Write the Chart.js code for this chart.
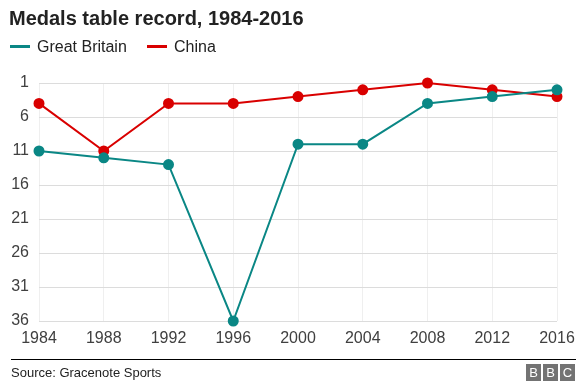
<!DOCTYPE html>
<html>
<head>
<meta charset="utf-8">
<script src="https://cdn.jsdelivr.net/npm/chart.js@4"></script>
<style>
  html, body { margin: 0; padding: 0; background: #fff; }
  #wrap { position: relative; width: 586px; height: 391px; }
</style>
</head>
<body>
<div id="wrap"><canvas id="medalsChart" width="586" height="391"></canvas></div>
<script>
// du lieu
const years = ["1984", "1988", "1992", "1996", "2000", "2004", "2008", "2012", "2016"];
const greatBritain = [11, 12, 13, 36, 10, 10, 4, 3, 2];
const china = [4, 11, 4, 4, 3, 2, 1, 2, 3];
const yTicks = [1, 6, 11, 16, 21, 26, 31, 36];

const teal = "#0a8785";
const red = "#d90000";
const FONT = "Liberation Sans, Arial, Helvetica, sans-serif";

// ve tieu de, chu thich va chan trang
const decor = {
  id: "decor",
  afterDraw(chart) {
    const ctx = chart.ctx;
    ctx.save();
    ctx.fillStyle = "#222";
    ctx.font = "bold 20px " + FONT;
    ctx.textBaseline = "alphabetic";
    ctx.fillText("Medals table record, 1984-2016", 9, 25);

    ctx.font = "16px " + FONT;
    ctx.fillStyle = teal;
    ctx.fillRect(10, 45, 20, 3);
    ctx.fillStyle = "#222";
    ctx.fillText("Great Britain", 37, 52);
    ctx.fillStyle = red;
    ctx.fillRect(147, 45, 20, 3);
    ctx.fillStyle = "#222";
    ctx.fillText("China", 174, 52);

    ctx.fillStyle = "#000";
    ctx.fillRect(11, 359, 565, 1);
    ctx.fillStyle = "#222";
    ctx.font = "13px " + FONT;
    ctx.fillText("Source: Gracenote Sports", 11, 377);

    // logo BBC
    ctx.font = "13px " + FONT;
    ctx.textAlign = "center";
    ["B", "B", "C"].forEach((c, i) => {
      const x = 526 + i * 17;
      ctx.fillStyle = "#737373";
      ctx.fillRect(x, 364, 15, 17);
      ctx.fillStyle = "#fff";
      ctx.fillText(c, x + 7.5, 377);
    });
    ctx.restore();
  }
};

const ctx = document.getElementById("medalsChart").getContext("2d");
const myChart = new Chart(ctx, {
  type: "line",
  data: {
    labels: years,
    datasets: [
      {
        label: "Great Britain",
        data: greatBritain,
        borderColor: teal,
        backgroundColor: teal,
        borderWidth: 2,
        pointRadius: 4.5,
        pointHoverRadius: 4.5,
        tension: 0,
        clip: false,
      },
      {
        label: "China",
        data: china,
        borderColor: red,
        backgroundColor: red,
        borderWidth: 2,
        pointRadius: 4.5,
        pointHoverRadius: 4.5,
        tension: 0,
        clip: false,
      },
    ],
  },
  options: {
    responsive: false,
    animation: false,
    layout: { padding: { top: 83, right: 29, left: 0, bottom: 0 } },
    plugins: { legend: { display: false }, tooltip: { enabled: false } },
    scales: {
      x: {
        offset: false,
        grid: { color: "#efefef", drawTicks: false },
        border: { display: false },
        ticks: { color: "#404040", font: { family: FONT, size: 16 }, padding: 8, maxRotation: 0 },
        afterFit(scale) { scale.height = 70; },
      },
      y: {
        reverse: true,
        min: yTicks[0],
        max: yTicks[yTicks.length - 1],
        afterBuildTicks(scale) { scale.ticks = yTicks.map(v => ({ value: v })); },
        grid: { color: "#dcdcdc", drawTicks: false, lineWidth: 1 },
        border: { display: false },
        ticks: { color: "#404040", font: { family: FONT, size: 16 }, padding: 10 },
        afterFit(scale) { scale.width = 39; },
      },
    },
  },
  plugins: [decor],
});
</script>
</body>
</html>
